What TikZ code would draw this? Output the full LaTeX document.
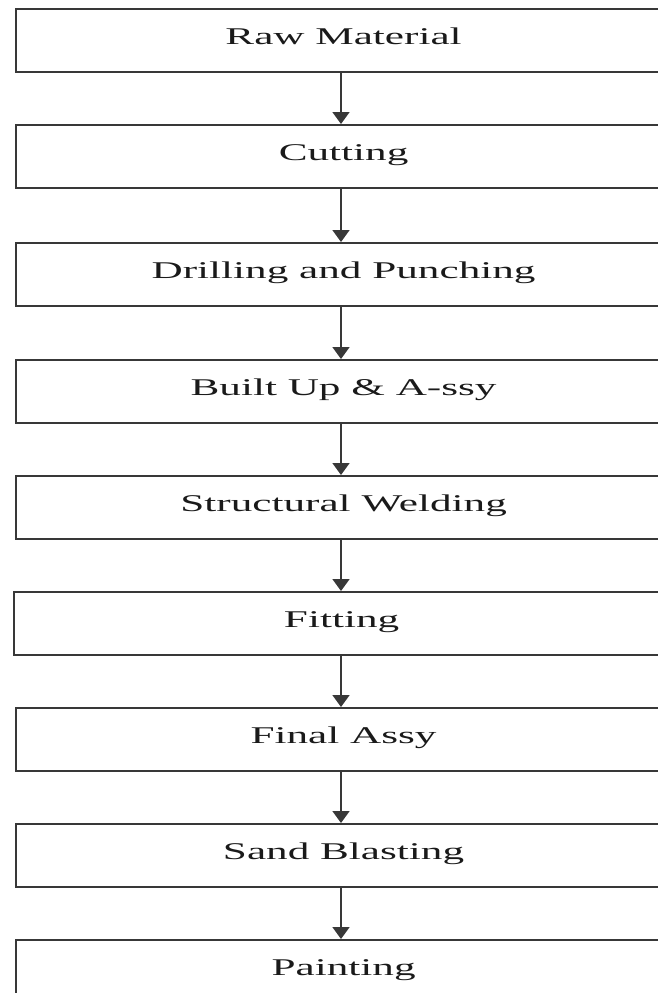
\documentclass[tikz,border=0pt]{standalone}
\usepackage{fontspec}
\setmainfont{Liberation Serif}[FakeStretch=1.8]
\usetikzlibrary{arrows.meta}
\definecolor{linegray}{HTML}{383838}
\definecolor{textgray}{HTML}{1A1A1A}
\begin{document}
\begin{tikzpicture}[x=1pt,y=-1pt,
  procbox/.style={draw=linegray, line width=2.2pt, rectangle, anchor=north west,
    minimum width=655pt, minimum height=63pt, inner sep=0pt,
    text height=16pt, text depth=9pt, text=textgray,
    font=\fontsize{24}{27}\selectfont},
  flowarrow/.style={draw=linegray, line width=1.8pt,
    -{Triangle[width=17pt,length=12pt]}}]
\useasboundingbox (0,0) rectangle (658,993);
\clip (0,0) rectangle (658,993);
\node[procbox] (b1) at (15,8)   {Raw Material};
\node[procbox] (b2) at (15,124) {Cutting};
\node[procbox] (b3) at (15,242) {Drilling and Punching};
\node[procbox] (b4) at (15,359) {Built Up \& A-ssy};
\node[procbox] (b5) at (15,475) {Structural Welding};
\node[procbox] (b6) at (13,591) {Fitting};
\node[procbox] (b7) at (15,707) {Final Assy};
\node[procbox] (b8) at (15,823) {Sand Blasting};
\node[procbox] (b9) at (15,939) {Painting};
\foreach \a/\b in {b1/b2,b2/b3,b3/b4,b4/b5,b5/b6,b6/b7,b7/b8,b8/b9}{
  \draw[flowarrow] (\a.south -| 341,0) -- (\b.north -| 341,0);
}
\end{tikzpicture}
\end{document}
